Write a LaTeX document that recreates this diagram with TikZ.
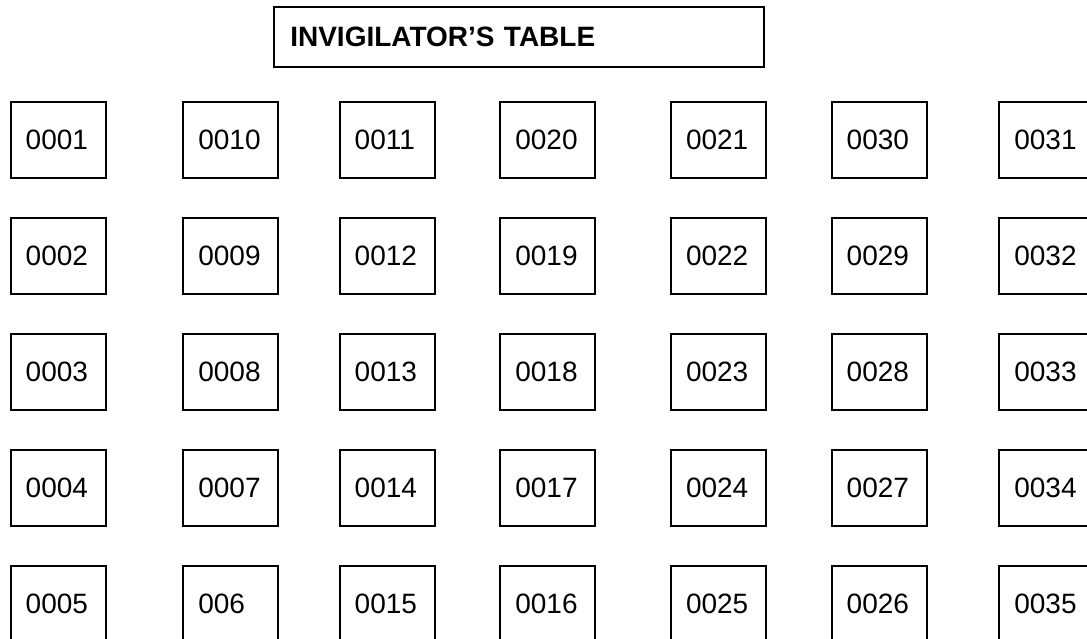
\documentclass[tikz,border=0pt]{standalone}
\usepackage{fontspec}
\setmainfont{Liberation Sans}
\usetikzlibrary{positioning}

\begin{document}
\begin{tikzpicture}[x=1pt, y=-1pt,
  seat/.style={draw, line width=2pt, anchor=north west, text width=65pt,
    inner xsep=15pt, inner ysep=0pt, outer sep=0pt, minimum height=76pt,
    align=left, font=\fontsize{28}{32}\selectfont},
  desk/.style={draw, line width=2pt, anchor=north west, text width=458pt,
    inner xsep=16pt, inner ysep=0pt, outer sep=0pt, minimum height=60pt,
    align=left, font=\fontsize{28}{32}\selectfont\bfseries},
  node distance=40pt,
]
  \useasboundingbox (0,0) rectangle (1087,638);
  \node[desk] (table) at (274.3,6.7) {INVIGILATOR'S TABLE};
  % column 1
  \node[seat] (c1r1) at (10.7,101.7) {0001};
  \node[seat, below=of c1r1] (c1r2) {0002};
  \node[seat, below=of c1r2] (c1r3) {0003};
  \node[seat, below=of c1r3] (c1r4) {0004};
  \node[seat, below=of c1r4] (c1r5) {0005};
  % column 2
  \node[seat] (c2r1) at (183.3,101.7) {0010};
  \node[seat, below=of c2r1] (c2r2) {0009};
  \node[seat, below=of c2r2] (c2r3) {0008};
  \node[seat, below=of c2r3] (c2r4) {0007};
  \node[seat, below=of c2r4] (c2r5) {006};
  % column 3
  \node[seat] (c3r1) at (339.7,101.7) {0011};
  \node[seat, below=of c3r1] (c3r2) {0012};
  \node[seat, below=of c3r2] (c3r3) {0013};
  \node[seat, below=of c3r3] (c3r4) {0014};
  \node[seat, below=of c3r4] (c3r5) {0015};
  % column 4
  \node[seat] (c4r1) at (500.3,101.7) {0020};
  \node[seat, below=of c4r1] (c4r2) {0019};
  \node[seat, below=of c4r2] (c4r3) {0018};
  \node[seat, below=of c4r3] (c4r4) {0017};
  \node[seat, below=of c4r4] (c4r5) {0016};
  % column 5
  \node[seat] (c5r1) at (671,101.7) {0021};
  \node[seat, below=of c5r1] (c5r2) {0022};
  \node[seat, below=of c5r2] (c5r3) {0023};
  \node[seat, below=of c5r3] (c5r4) {0024};
  \node[seat, below=of c5r4] (c5r5) {0025};
  % column 6
  \node[seat] (c6r1) at (831.7,101.7) {0030};
  \node[seat, below=of c6r1] (c6r2) {0029};
  \node[seat, below=of c6r2] (c6r3) {0028};
  \node[seat, below=of c6r3] (c6r4) {0027};
  \node[seat, below=of c6r4] (c6r5) {0026};
  % column 7
  \node[seat] (c7r1) at (999.3,101.7) {0031};
  \node[seat, below=of c7r1] (c7r2) {0032};
  \node[seat, below=of c7r2] (c7r3) {0033};
  \node[seat, below=of c7r3] (c7r4) {0034};
  \node[seat, below=of c7r4] (c7r5) {0035};
\end{tikzpicture}
\end{document}
